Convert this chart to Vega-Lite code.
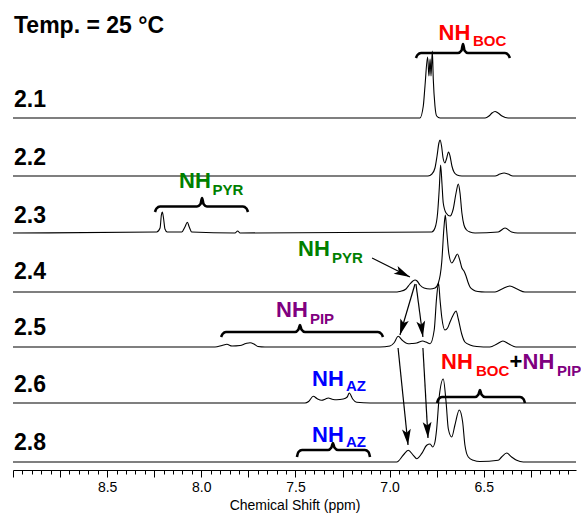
{
  "$schema": "https://vega.github.io/schema/vega-lite/v6.json",
  "width": 563,
  "height": 470,
  "autosize": {"type": "none"},
  "padding": {"left": 13, "top": 0, "right": 5, "bottom": 45},
  "background": "white",
  "config": {"view": {"stroke": null}, "font": "Liberation Sans"},
  "resolve": {"axis": {"x": "independent"}},
  "datasets": {
    "spectra": [
      {"s": "2.1", "ppm": 9.0, "y": 352}, {"s": "2.1", "ppm": 7.5, "y": 352}, {"s": "2.1", "ppm": 6.839, "y": 352},
      {"s": "2.1", "ppm": 6.821, "y": 364}, {"s": "2.1", "ppm": 6.812, "y": 384}, {"s": "2.1", "ppm": 6.798, "y": 413},
      {"s": "2.1", "ppm": 6.791, "y": 394}, {"s": "2.1", "ppm": 6.785, "y": 411}, {"s": "2.1", "ppm": 6.780, "y": 394},
      {"s": "2.1", "ppm": 6.773, "y": 419}, {"s": "2.1", "ppm": 6.768, "y": 391}, {"s": "2.1", "ppm": 6.759, "y": 364},
      {"s": "2.1", "ppm": 6.750, "y": 354}, {"s": "2.1", "ppm": 6.732, "y": 352}, {"s": "2.1", "ppm": 6.493, "y": 352},
      {"s": "2.1", "ppm": 6.472, "y": 354}, {"s": "2.1", "ppm": 6.456, "y": 357}, {"s": "2.1", "ppm": 6.440, "y": 358.5},
      {"s": "2.1", "ppm": 6.424, "y": 357}, {"s": "2.1", "ppm": 6.403, "y": 354}, {"s": "2.1", "ppm": 6.371, "y": 352},
      {"s": "2.1", "ppm": 6.01, "y": 352},

      {"s": "2.2", "ppm": 9.0, "y": 294}, {"s": "2.2", "ppm": 6.796, "y": 294}, {"s": "2.2", "ppm": 6.775, "y": 296},
      {"s": "2.2", "ppm": 6.759, "y": 302}, {"s": "2.2", "ppm": 6.748, "y": 314}, {"s": "2.2", "ppm": 6.738, "y": 327},
      {"s": "2.2", "ppm": 6.732, "y": 330}, {"s": "2.2", "ppm": 6.724, "y": 324}, {"s": "2.2", "ppm": 6.716, "y": 312},
      {"s": "2.2", "ppm": 6.706, "y": 307}, {"s": "2.2", "ppm": 6.698, "y": 311}, {"s": "2.2", "ppm": 6.687, "y": 318},
      {"s": "2.2", "ppm": 6.679, "y": 314}, {"s": "2.2", "ppm": 6.669, "y": 304}, {"s": "2.2", "ppm": 6.658, "y": 298},
      {"s": "2.2", "ppm": 6.642, "y": 295}, {"s": "2.2", "ppm": 6.616, "y": 294}, {"s": "2.2", "ppm": 6.440, "y": 294},
      {"s": "2.2", "ppm": 6.414, "y": 296}, {"s": "2.2", "ppm": 6.392, "y": 297}, {"s": "2.2", "ppm": 6.371, "y": 296},
      {"s": "2.2", "ppm": 6.345, "y": 294}, {"s": "2.2", "ppm": 6.01, "y": 294},

      {"s": "2.3", "ppm": 9.0, "y": 237}, {"s": "2.3", "ppm": 8.237, "y": 238}, {"s": "2.3", "ppm": 8.219, "y": 242},
      {"s": "2.3", "ppm": 8.212, "y": 255}, {"s": "2.3", "ppm": 8.207, "y": 258}, {"s": "2.3", "ppm": 8.200, "y": 251},
      {"s": "2.3", "ppm": 8.193, "y": 241}, {"s": "2.3", "ppm": 8.181, "y": 238}, {"s": "2.3", "ppm": 8.104, "y": 238},
      {"s": "2.3", "ppm": 8.087, "y": 243}, {"s": "2.3", "ppm": 8.074, "y": 247.7}, {"s": "2.3", "ppm": 8.064, "y": 243},
      {"s": "2.3", "ppm": 8.051, "y": 238}, {"s": "2.3", "ppm": 7.821, "y": 237}, {"s": "2.3", "ppm": 7.807, "y": 239},
      {"s": "2.3", "ppm": 7.794, "y": 237}, {"s": "2.3", "ppm": 6.776, "y": 238}, {"s": "2.3", "ppm": 6.759, "y": 242},
      {"s": "2.3", "ppm": 6.745, "y": 257}, {"s": "2.3", "ppm": 6.736, "y": 282}, {"s": "2.3", "ppm": 6.729, "y": 305},
      {"s": "2.3", "ppm": 6.722, "y": 287}, {"s": "2.3", "ppm": 6.715, "y": 267}, {"s": "2.3", "ppm": 6.700, "y": 257},
      {"s": "2.3", "ppm": 6.679, "y": 254}, {"s": "2.3", "ppm": 6.662, "y": 261}, {"s": "2.3", "ppm": 6.647, "y": 277},
      {"s": "2.3", "ppm": 6.635, "y": 286}, {"s": "2.3", "ppm": 6.626, "y": 277}, {"s": "2.3", "ppm": 6.616, "y": 257},
      {"s": "2.3", "ppm": 6.605, "y": 245}, {"s": "2.3", "ppm": 6.591, "y": 240}, {"s": "2.3", "ppm": 6.573, "y": 238},
      {"s": "2.3", "ppm": 6.546, "y": 237}, {"s": "2.3", "ppm": 6.423, "y": 238}, {"s": "2.3", "ppm": 6.387, "y": 242},
      {"s": "2.3", "ppm": 6.352, "y": 238}, {"s": "2.3", "ppm": 6.32, "y": 237}, {"s": "2.3", "ppm": 6.01, "y": 237},

      {"s": "2.4", "ppm": 9.0, "y": 178}, {"s": "2.4", "ppm": 6.96, "y": 178}, {"s": "2.4", "ppm": 6.945, "y": 178.5},
      {"s": "2.4", "ppm": 6.913, "y": 181}, {"s": "2.4", "ppm": 6.892, "y": 186}, {"s": "2.4", "ppm": 6.876, "y": 189},
      {"s": "2.4", "ppm": 6.865, "y": 190}, {"s": "2.4", "ppm": 6.854, "y": 189}, {"s": "2.4", "ppm": 6.839, "y": 185},
      {"s": "2.4", "ppm": 6.817, "y": 182}, {"s": "2.4", "ppm": 6.785, "y": 181}, {"s": "2.4", "ppm": 6.759, "y": 182},
      {"s": "2.4", "ppm": 6.741, "y": 187}, {"s": "2.4", "ppm": 6.723, "y": 208}, {"s": "2.4", "ppm": 6.711, "y": 243},
      {"s": "2.4", "ppm": 6.704, "y": 255}, {"s": "2.4", "ppm": 6.697, "y": 240}, {"s": "2.4", "ppm": 6.685, "y": 216},
      {"s": "2.4", "ppm": 6.670, "y": 207}, {"s": "2.4", "ppm": 6.655, "y": 211}, {"s": "2.4", "ppm": 6.640, "y": 216},
      {"s": "2.4", "ppm": 6.626, "y": 209}, {"s": "2.4", "ppm": 6.616, "y": 202}, {"s": "2.4", "ppm": 6.605, "y": 199},
      {"s": "2.4", "ppm": 6.594, "y": 194}, {"s": "2.4", "ppm": 6.584, "y": 188}, {"s": "2.4", "ppm": 6.573, "y": 183},
      {"s": "2.4", "ppm": 6.555, "y": 180}, {"s": "2.4", "ppm": 6.531, "y": 178.5}, {"s": "2.4", "ppm": 6.493, "y": 178},
      {"s": "2.4", "ppm": 6.440, "y": 178}, {"s": "2.4", "ppm": 6.403, "y": 181}, {"s": "2.4", "ppm": 6.361, "y": 184},
      {"s": "2.4", "ppm": 6.323, "y": 181}, {"s": "2.4", "ppm": 6.281, "y": 178}, {"s": "2.4", "ppm": 6.01, "y": 178},

      {"s": "2.5", "ppm": 9.0, "y": 123}, {"s": "2.5", "ppm": 7.927, "y": 123}, {"s": "2.5", "ppm": 7.890, "y": 124.5},
      {"s": "2.5", "ppm": 7.864, "y": 125.7}, {"s": "2.5", "ppm": 7.837, "y": 124}, {"s": "2.5", "ppm": 7.794, "y": 124.5},
      {"s": "2.5", "ppm": 7.763, "y": 126.5}, {"s": "2.5", "ppm": 7.741, "y": 127.3}, {"s": "2.5", "ppm": 7.720, "y": 126},
      {"s": "2.5", "ppm": 7.699, "y": 123.5}, {"s": "2.5", "ppm": 7.662, "y": 123}, {"s": "2.5", "ppm": 7.051, "y": 123},
      {"s": "2.5", "ppm": 6.998, "y": 124}, {"s": "2.5", "ppm": 6.977, "y": 127}, {"s": "2.5", "ppm": 6.954, "y": 133.7},
      {"s": "2.5", "ppm": 6.934, "y": 130}, {"s": "2.5", "ppm": 6.901, "y": 126.3}, {"s": "2.5", "ppm": 6.881, "y": 126.5},
      {"s": "2.5", "ppm": 6.856, "y": 127}, {"s": "2.5", "ppm": 6.824, "y": 129}, {"s": "2.5", "ppm": 6.807, "y": 128},
      {"s": "2.5", "ppm": 6.785, "y": 126.3}, {"s": "2.5", "ppm": 6.763, "y": 140}, {"s": "2.5", "ppm": 6.750, "y": 173},
      {"s": "2.5", "ppm": 6.740, "y": 187}, {"s": "2.5", "ppm": 6.732, "y": 170}, {"s": "2.5", "ppm": 6.723, "y": 153},
      {"s": "2.5", "ppm": 6.706, "y": 140}, {"s": "2.5", "ppm": 6.692, "y": 142}, {"s": "2.5", "ppm": 6.679, "y": 148},
      {"s": "2.5", "ppm": 6.662, "y": 155}, {"s": "2.5", "ppm": 6.647, "y": 159}, {"s": "2.5", "ppm": 6.635, "y": 151},
      {"s": "2.5", "ppm": 6.617, "y": 136}, {"s": "2.5", "ppm": 6.600, "y": 128}, {"s": "2.5", "ppm": 6.573, "y": 125},
      {"s": "2.5", "ppm": 6.537, "y": 123.5}, {"s": "2.5", "ppm": 6.467, "y": 123}, {"s": "2.5", "ppm": 6.430, "y": 126},
      {"s": "2.5", "ppm": 6.398, "y": 129}, {"s": "2.5", "ppm": 6.366, "y": 126}, {"s": "2.5", "ppm": 6.329, "y": 123},
      {"s": "2.5", "ppm": 6.01, "y": 123},

      {"s": "2.6", "ppm": 9.0, "y": 67}, {"s": "2.6", "ppm": 7.449, "y": 67}, {"s": "2.6", "ppm": 7.430, "y": 68.5},
      {"s": "2.6", "ppm": 7.405, "y": 73.7}, {"s": "2.6", "ppm": 7.386, "y": 71.5}, {"s": "2.6", "ppm": 7.361, "y": 69.7},
      {"s": "2.6", "ppm": 7.340, "y": 71}, {"s": "2.6", "ppm": 7.326, "y": 72}, {"s": "2.6", "ppm": 7.300, "y": 70.5},
      {"s": "2.6", "ppm": 7.281, "y": 70.3}, {"s": "2.6", "ppm": 7.246, "y": 71}, {"s": "2.6", "ppm": 7.225, "y": 73},
      {"s": "2.6", "ppm": 7.214, "y": 77}, {"s": "2.6", "ppm": 7.196, "y": 71}, {"s": "2.6", "ppm": 7.175, "y": 67.7},
      {"s": "2.6", "ppm": 7.104, "y": 67}, {"s": "2.6", "ppm": 6.01, "y": 67},

      {"s": "2.8", "ppm": 9.0, "y": 8}, {"s": "2.8", "ppm": 6.962, "y": 8}, {"s": "2.8", "ppm": 6.927, "y": 15},
      {"s": "2.8", "ppm": 6.901, "y": 19.7}, {"s": "2.8", "ppm": 6.874, "y": 14.7}, {"s": "2.8", "ppm": 6.856, "y": 11.3},
      {"s": "2.8", "ppm": 6.830, "y": 16.3}, {"s": "2.8", "ppm": 6.803, "y": 24.7}, {"s": "2.8", "ppm": 6.785, "y": 26},
      {"s": "2.8", "ppm": 6.771, "y": 23}, {"s": "2.8", "ppm": 6.759, "y": 28}, {"s": "2.8", "ppm": 6.750, "y": 41},
      {"s": "2.8", "ppm": 6.736, "y": 74}, {"s": "2.8", "ppm": 6.715, "y": 91}, {"s": "2.8", "ppm": 6.700, "y": 68},
      {"s": "2.8", "ppm": 6.688, "y": 41}, {"s": "2.8", "ppm": 6.670, "y": 33}, {"s": "2.8", "ppm": 6.653, "y": 45},
      {"s": "2.8", "ppm": 6.630, "y": 60}, {"s": "2.8", "ppm": 6.612, "y": 48}, {"s": "2.8", "ppm": 6.600, "y": 25},
      {"s": "2.8", "ppm": 6.582, "y": 13}, {"s": "2.8", "ppm": 6.555, "y": 9.7}, {"s": "2.8", "ppm": 6.520, "y": 8.5},
      {"s": "2.8", "ppm": 6.423, "y": 9.7}, {"s": "2.8", "ppm": 6.405, "y": 13}, {"s": "2.8", "ppm": 6.378, "y": 17},
      {"s": "2.8", "ppm": 6.352, "y": 13}, {"s": "2.8", "ppm": 6.325, "y": 9.7}, {"s": "2.8", "ppm": 6.290, "y": 8},
      {"s": "2.8", "ppm": 6.01, "y": 8}
    ],
    "braces": [
      {"b": "BOC", "ppm": 6.860, "y": 412}, {"b": "BOC", "ppm": 6.852, "y": 415}, {"b": "BOC", "ppm": 6.833, "y": 417},
      {"b": "BOC", "ppm": 6.637, "y": 417}, {"b": "BOC", "ppm": 6.618, "y": 419.5}, {"b": "BOC", "ppm": 6.610, "y": 426},
      {"b": "BOC", "ppm": 6.602, "y": 419.5}, {"b": "BOC", "ppm": 6.584, "y": 417}, {"b": "BOC", "ppm": 6.387, "y": 417},
      {"b": "BOC", "ppm": 6.369, "y": 415}, {"b": "BOC", "ppm": 6.361, "y": 412},

      {"b": "PYR", "ppm": 8.246, "y": 258}, {"b": "PYR", "ppm": 8.238, "y": 261.5}, {"b": "PYR", "ppm": 8.219, "y": 263.5},
      {"b": "PYR", "ppm": 8.023, "y": 263.5}, {"b": "PYR", "ppm": 8.004, "y": 266}, {"b": "PYR", "ppm": 7.996, "y": 272},
      {"b": "PYR", "ppm": 7.988, "y": 266}, {"b": "PYR", "ppm": 7.970, "y": 263.5}, {"b": "PYR", "ppm": 7.779, "y": 263.5},
      {"b": "PYR", "ppm": 7.760, "y": 261.5}, {"b": "PYR", "ppm": 7.752, "y": 258},

      {"b": "PIP", "ppm": 7.895, "y": 133}, {"b": "PIP", "ppm": 7.887, "y": 136}, {"b": "PIP", "ppm": 7.869, "y": 138},
      {"b": "PIP", "ppm": 7.502, "y": 138}, {"b": "PIP", "ppm": 7.484, "y": 140.5}, {"b": "PIP", "ppm": 7.476, "y": 145},
      {"b": "PIP", "ppm": 7.468, "y": 140.5}, {"b": "PIP", "ppm": 7.449, "y": 138}, {"b": "PIP", "ppm": 7.062, "y": 138},
      {"b": "PIP", "ppm": 7.043, "y": 136}, {"b": "PIP", "ppm": 7.035, "y": 133},

      {"b": "BOCPIP", "ppm": 6.748, "y": 67}, {"b": "BOCPIP", "ppm": 6.740, "y": 71}, {"b": "BOCPIP", "ppm": 6.722, "y": 73},
      {"b": "BOCPIP", "ppm": 6.546, "y": 73}, {"b": "BOCPIP", "ppm": 6.528, "y": 75.5}, {"b": "BOCPIP", "ppm": 6.520, "y": 80},
      {"b": "BOCPIP", "ppm": 6.512, "y": 75.5}, {"b": "BOCPIP", "ppm": 6.493, "y": 73}, {"b": "BOCPIP", "ppm": 6.307, "y": 73},
      {"b": "BOCPIP", "ppm": 6.289, "y": 71}, {"b": "BOCPIP", "ppm": 6.281, "y": 67},

      {"b": "AZ", "ppm": 7.492, "y": 13}, {"b": "AZ", "ppm": 7.484, "y": 18}, {"b": "AZ", "ppm": 7.465, "y": 20},
      {"b": "AZ", "ppm": 7.327, "y": 20}, {"b": "AZ", "ppm": 7.309, "y": 22.5}, {"b": "AZ", "ppm": 7.301, "y": 27},
      {"b": "AZ", "ppm": 7.293, "y": 22.5}, {"b": "AZ", "ppm": 7.274, "y": 20}, {"b": "AZ", "ppm": 7.131, "y": 20},
      {"b": "AZ", "ppm": 7.112, "y": 18}, {"b": "AZ", "ppm": 7.104, "y": 13}
    ],
    "arrows": [
      {"ppm": 7.093, "y": 212, "ppm2": 6.892, "y2": 193, "angle": -63.4},
      {"ppm": 6.865, "y": 186, "ppm2": 6.945, "y2": 135, "angle": 16.7},
      {"ppm": 6.860, "y": 186, "ppm2": 6.823, "y2": 133, "angle": -7.7},
      {"ppm": 6.955, "y": 122, "ppm2": 6.902, "y2": 25, "angle": -6.0},
      {"ppm": 6.823, "y": 122, "ppm2": 6.796, "y2": 32, "angle": -3.2}
    ],
    "labels": [
      {"t": "Temp. = 25 °C", "ppm": 9.0, "y": 437},
      {"t": "2.1", "ppm": 9.0, "y": 363},
      {"t": "2.2", "ppm": 9.0, "y": 305},
      {"t": "2.3", "ppm": 9.0, "y": 247},
      {"t": "2.4", "ppm": 9.0, "y": 191},
      {"t": "2.5", "ppm": 9.0, "y": 135},
      {"t": "2.6", "ppm": 9.0, "y": 78},
      {"t": "2.8", "ppm": 9.0, "y": 20}
    ],
    "nh": [
      {"t": "NH", "g": "BOC", "ppm": 6.740, "y": 430},
      {"t": "NH", "g": "PYR", "ppm": 8.118, "y": 282},
      {"t": "NH", "g": "PYR", "ppm": 7.486, "y": 214},
      {"t": "NH", "g": "PIP", "ppm": 7.603, "y": 153},
      {"t": "NH", "g": "AZ", "ppm": 7.412, "y": 84},
      {"t": "NH", "g": "AZ", "ppm": 7.412, "y": 28},
      {"t": "NH", "g": "BOC", "ppm": 6.727, "y": 101},
      {"t": "+", "g": "plus", "ppm": 6.363, "y": 101},
      {"t": "NH", "g": "PIP", "ppm": 6.294, "y": 101}
    ],
    "subs": [
      {"t": "BOC", "g": "BOC", "ppm": 6.557, "y": 424},
      {"t": "PYR", "g": "PYR", "ppm": 7.941, "y": 275},
      {"t": "PYR", "g": "PYR", "ppm": 7.306, "y": 207},
      {"t": "PIP", "g": "PIP", "ppm": 7.423, "y": 146},
      {"t": "AZ", "g": "AZ", "ppm": 7.232, "y": 79},
      {"t": "AZ", "g": "AZ", "ppm": 7.232, "y": 23},
      {"t": "BOC", "g": "BOC", "ppm": 6.541, "y": 94},
      {"t": "PIP", "g": "PIP", "ppm": 6.111, "y": 94}
    ]
  },
  "layer": [
    {
      "data": {"name": "spectra"},
      "mark": {"type": "line", "color": "black", "strokeWidth": 1.1, "interpolate": "monotone"},
      "encoding": {
        "x": {
          "field": "ppm", "type": "quantitative",
          "scale": {"domain": [9.0, 6.01], "nice": false, "zero": false},
          "axis": {
            "orient": "bottom",
            "title": "Chemical Shift (ppm)",
            "values": [9, 8.75, 8.5, 8.25, 8, 7.75, 7.5, 7.25, 7, 6.75, 6.5, 6.25],
            "labelExpr": "datum.value < 8.9 && abs(datum.value*2 - round(datum.value*2)) < 0.001 ? format(datum.value, '.1f') : ''",
            "labelFontSize": 14,
            "labelColor": "black",
            "labelPadding": 3,
            "labelOverlap": false,
            "labelFlush": false,
            "tickSize": 7,
            "tickColor": "black",
            "tickWidth": 1,
            "domainColor": "black",
            "domainWidth": 1,
            "grid": false,
            "titleFontSize": 14,
            "titleFontWeight": "normal",
            "titleColor": "black",
            "titlePadding": 4
          }
        },
        "y": {"field": "y", "type": "quantitative", "scale": {"domain": [0, 470], "nice": false, "zero": false}, "axis": null},
        "detail": {"field": "s"},
        "order": {"field": "ppm", "sort": "descending"}
      }
    },
    {
      "data": {"name": "braces"},
      "mark": {"type": "line", "color": "black", "strokeWidth": 2.6, "interpolate": "monotone"},
      "encoding": {
        "x": {
          "field": "ppm", "type": "quantitative",
          "axis": {
            "orient": "bottom",
            "title": null,
            "values": [8.95, 8.9, 8.85, 8.8, 8.7, 8.65, 8.6, 8.55, 8.45, 8.4, 8.35, 8.3, 8.2, 8.15, 8.1, 8.05, 7.95, 7.9, 7.85, 7.8, 7.7, 7.65, 7.6, 7.55, 7.45, 7.4, 7.35, 7.3, 7.2, 7.15, 7.1, 7.05, 6.95, 6.9, 6.85, 6.8, 6.7, 6.65, 6.6, 6.55, 6.45, 6.4, 6.35, 6.3, 6.2, 6.15, 6.1, 6.05],
            "labels": false,
            "domain": false,
            "grid": false,
            "tickSize": 4,
            "tickColor": "black",
            "tickWidth": 1
          }
        },
        "y": {"field": "y", "type": "quantitative"},
        "detail": {"field": "b"},
        "order": {"field": "ppm", "sort": "descending"}
      }
    },
    {
      "data": {"name": "arrows"},
      "mark": {"type": "rule", "color": "black", "strokeWidth": 1.2},
      "encoding": {
        "x": {"field": "ppm", "type": "quantitative", "axis": null},
        "x2": {"field": "ppm2"},
        "y": {"field": "y", "type": "quantitative"},
        "y2": {"field": "y2"}
      }
    },
    {
      "data": {"name": "arrows"},
      "mark": {"type": "point", "filled": true, "color": "black", "opacity": 1, "size": 256, "strokeWidth": 0, "shape": "M0,0L-0.55,-2L0,-1.55L0.55,-2Z"},
      "encoding": {
        "x": {"field": "ppm2", "type": "quantitative", "axis": null},
        "y": {"field": "y2", "type": "quantitative"},
        "angle": {"field": "angle", "type": "quantitative", "scale": null}
      }
    },
    {
      "data": {"name": "labels"},
      "mark": {"type": "text", "fontSize": 23, "fontWeight": "bold", "align": "left", "baseline": "alphabetic", "color": "black", "dx": 1},
      "encoding": {
        "x": {"field": "ppm", "type": "quantitative", "axis": null},
        "y": {"field": "y", "type": "quantitative"},
        "text": {"field": "t"}
      }
    },
    {
      "data": {"name": "nh"},
      "mark": {"type": "text", "fontSize": 22, "fontWeight": "bold", "align": "left", "baseline": "alphabetic"},
      "encoding": {
        "x": {"field": "ppm", "type": "quantitative", "axis": null},
        "y": {"field": "y", "type": "quantitative"},
        "text": {"field": "t"},
        "color": {"field": "g", "type": "nominal", "scale": {"domain": ["BOC", "PYR", "PIP", "AZ", "plus"], "range": ["#ff0000", "#008000", "#800080", "#0000ff", "#000000"]}, "legend": null}
      }
    },
    {
      "data": {"name": "subs"},
      "mark": {"type": "text", "fontSize": 15, "fontWeight": "bold", "align": "left", "baseline": "alphabetic"},
      "encoding": {
        "x": {"field": "ppm", "type": "quantitative", "axis": null},
        "y": {"field": "y", "type": "quantitative"},
        "text": {"field": "t"},
        "color": {"field": "g", "type": "nominal", "legend": null}
      }
    }
  ]
}
